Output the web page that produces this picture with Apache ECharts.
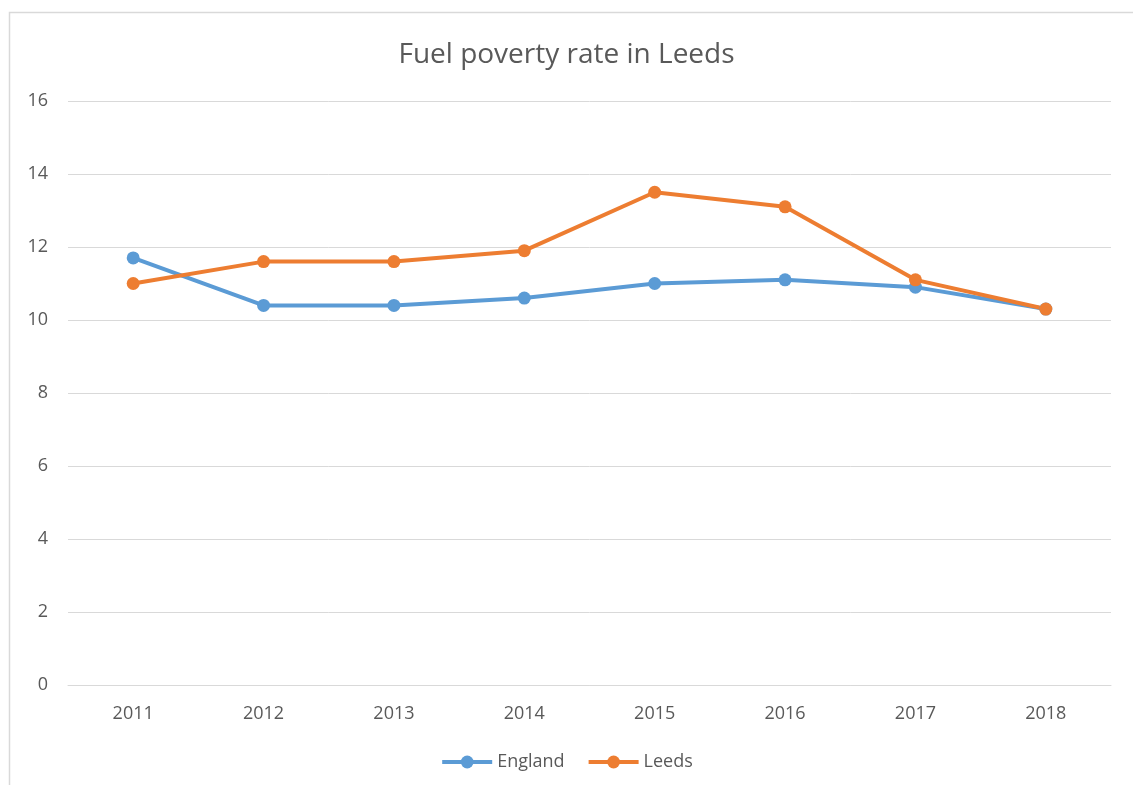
<!DOCTYPE html>
<html>
<head>
<meta charset="utf-8">
<script src="https://cdn.jsdelivr.net/npm/echarts@6/dist/echarts.min.js"></script>
<style>
html,body{margin:0;padding:0;background:#fff;}
#chart{width:1133px;height:785px;}
</style>
</head>
<body>
<div id="chart"></div>
<script>
const years = ['2011','2012','2013','2014','2015','2016','2017','2018'];
const england = [11.7, 10.4, 10.4, 10.6, 11.0, 11.1, 10.9, 10.3];
const leeds = [11.0, 11.6, 11.6, 11.9, 13.5, 13.1, 11.1, 10.3];

const FONT = "'Open Sans', 'Liberation Sans', sans-serif";
const chart = echarts.init(document.getElementById('chart'), null, {renderer: 'canvas'});
chart.setOption({
  animation: false,
  backgroundColor: '#ffffff',
  graphic: [{
    type: 'rect',
    shape: {x: 9.5, y: 12.5, width: 1200, height: 900},
    style: {fill: 'none', stroke: '#d9d9d9', lineWidth: 1.5},
    silent: true
  }],
  title: {
    text: 'Fuel poverty rate in Leeds',
    left: 'center',
    top: 36,
    textStyle: {fontFamily: FONT, fontSize: 28, fontWeight: 'normal', color: '#595959'}
  },
  legend: {
    bottom: 9,
    left: 'center',
    itemWidth: 50,
    itemHeight: 16,
    itemGap: 22,
    lineStyle: {width: 4},
    textStyle: {fontFamily: FONT, fontSize: 18, color: '#595959'},
    data: ['England', 'Leeds']
  },
  grid: {left: 68, right: 22, top: 101, bottom: 100},
  xAxis: {
    type: 'category',
    data: years,
    boundaryGap: true,
    axisLine: {show: true, lineStyle: {color: '#d9d9d9', width: 1}},
    axisTick: {show: false},
    axisLabel: {fontFamily: FONT, fontSize: 18, color: '#595959', margin: 20}
  },
  yAxis: {
    type: 'value',
    min: 0, max: 16, interval: 2,
    axisLine: {show: false},
    axisTick: {show: false},
    splitLine: {lineStyle: {color: '#d9d9d9', width: 1}},
    axisLabel: {fontFamily: FONT, fontSize: 18, color: '#595959', margin: 20}
  },
  series: [
    {
      name: 'England', type: 'line', data: england,
      symbol: 'circle', symbolSize: 13,
      lineStyle: {color: '#5B9BD5', width: 4},
      itemStyle: {color: '#5B9BD5'}
    },
    {
      name: 'Leeds', type: 'line', data: leeds,
      symbol: 'circle', symbolSize: 13,
      lineStyle: {color: '#ED7D31', width: 4},
      itemStyle: {color: '#ED7D31'}
    }
  ]
});
</script>
</body>
</html>
